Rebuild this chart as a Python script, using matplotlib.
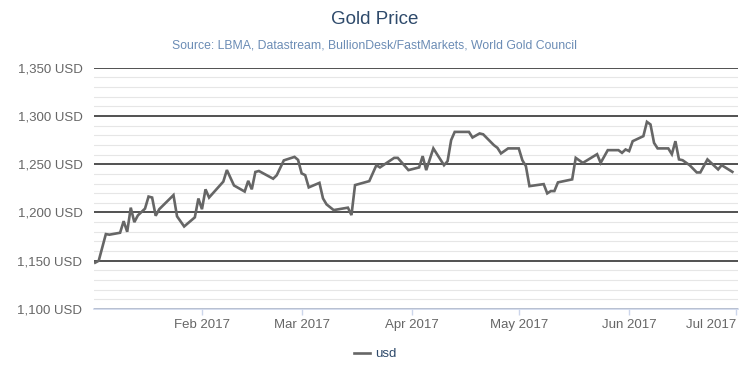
import matplotlib
matplotlib.use("Agg")
import matplotlib.pyplot as plt
from matplotlib.ticker import MultipleLocator, FuncFormatter
import pandas as pd

plt.rcParams['font.family'] = ['Liberation Sans', 'DejaVu Sans']

dates = [
    "2017-01-02", "2017-01-03", "2017-01-05", "2017-01-06", "2017-01-09", "2017-01-10",
    "2017-01-11", "2017-01-12", "2017-01-13", "2017-01-14", "2017-01-16", "2017-01-17",
    "2017-01-18", "2017-01-19", "2017-01-20", "2017-01-24", "2017-01-25", "2017-01-27",
    "2017-01-30", "2017-01-31", "2017-02-01", "2017-02-02", "2017-02-03", "2017-02-07",
    "2017-02-08", "2017-02-10", "2017-02-13", "2017-02-14", "2017-02-15", "2017-02-16",
    "2017-02-17", "2017-02-21", "2017-02-22", "2017-02-24", "2017-02-27", "2017-02-28",
    "2017-03-01", "2017-03-02", "2017-03-03", "2017-03-06", "2017-03-07", "2017-03-08",
    "2017-03-10", "2017-03-14", "2017-03-15", "2017-03-16", "2017-03-20", "2017-03-22",
    "2017-03-23", "2017-03-27", "2017-03-28", "2017-03-31", "2017-04-03", "2017-04-04",
    "2017-04-05", "2017-04-07", "2017-04-10", "2017-04-11", "2017-04-12", "2017-04-13",
    "2017-04-17", "2017-04-18", "2017-04-20", "2017-04-21", "2017-04-24", "2017-04-25",
    "2017-04-26", "2017-04-28", "2017-05-01", "2017-05-02", "2017-05-03", "2017-05-04",
    "2017-05-08", "2017-05-09", "2017-05-10", "2017-05-11", "2017-05-12", "2017-05-16",
    "2017-05-17", "2017-05-19", "2017-05-23", "2017-05-24", "2017-05-26", "2017-05-29",
    "2017-05-30", "2017-05-31", "2017-06-01", "2017-06-02", "2017-06-05", "2017-06-06",
    "2017-06-07", "2017-06-08", "2017-06-09", "2017-06-12", "2017-06-13", "2017-06-14",
    "2017-06-15", "2017-06-16", "2017-06-18", "2017-06-20", "2017-06-21", "2017-06-23",
    "2017-06-26", "2017-06-27", "2017-06-28", "2017-06-30",
]
usd = [
    1148.0, 1150.0, 1177.6, 1177.0, 1179.0, 1191.0,
    1180.0, 1205.0, 1190.0, 1197.0, 1204.0, 1216.5,
    1215.5, 1196.6, 1203.4, 1218.0, 1196.0, 1185.5,
    1195.0, 1214.5, 1203.4, 1224.0, 1215.5, 1232.0,
    1244.0, 1228.0, 1221.7, 1232.8, 1224.0, 1242.0,
    1243.0, 1235.0, 1238.6, 1254.0, 1257.6, 1254.5,
    1240.5, 1238.7, 1226.0, 1230.7, 1214.6, 1208.4,
    1202.5, 1205.0, 1197.3, 1228.4, 1232.5, 1249.0,
    1246.7, 1256.6, 1256.6, 1243.9, 1246.7, 1258.4,
    1243.9, 1266.4, 1249.0, 1253.2, 1275.0, 1283.5,
    1283.5, 1277.7, 1281.9, 1281.0, 1269.8, 1267.0,
    1261.2, 1266.4, 1266.4, 1254.2, 1248.0, 1227.3,
    1229.4, 1219.8, 1222.2, 1222.2, 1231.2, 1234.3,
    1256.6, 1251.4, 1260.4, 1251.4, 1264.6, 1264.6,
    1261.8, 1265.3, 1263.6, 1273.9, 1279.1, 1293.9,
    1291.2, 1272.1, 1266.4, 1266.4, 1260.4, 1273.9,
    1255.0, 1254.2, 1249.0, 1241.5, 1241.5, 1255.0,
    1244.6, 1249.0, 1246.7, 1242.1,
]
tick_dates = ["2017-02-01", "2017-03-01", "2017-04-01", "2017-05-01", "2017-06-01", "2017-07-01"]
tick_labels = ["Feb 2017", "Mar 2017", "Apr 2017", "May 2017", "Jun 2017", "Jul 2017"]

title = "Gold Price"
subtitle = "Source: LBMA, Datastream, BullionDesk/FastMarkets, World Gold Council"

x = pd.to_datetime(dates)

fig = plt.figure(figsize=(7.5, 3.75), dpi=100)
ax = fig.add_axes([0.1257, 0.176, 0.8579, 0.6434])

ax.plot(x, usd, color="#666666", lw=1.9, label="usd", zorder=3, solid_joinstyle="miter")

ax.set_ylim(1100, 1350)
ax.set_xlim(pd.Timestamp("2017-01-01 18:00"), pd.Timestamp("2017-07-01 12:00"))

ax.yaxis.set_major_locator(MultipleLocator(50))
ax.yaxis.set_minor_locator(MultipleLocator(10))
ax.yaxis.set_major_formatter(FuncFormatter(lambda v, p: f"{v:,.0f} USD"))
ax.grid(axis="y", which="minor", color="#e6e6e6", lw=0.8, zorder=0)
ax.grid(axis="y", which="major", color="#222222", lw=1.1, zorder=1)
ax.tick_params(axis="y", which="both", length=0, labelsize=9.5, labelcolor="#666666", pad=8.5)

ax.set_xticks(pd.to_datetime(tick_dates))
ax.set_xticklabels(tick_labels)
ax.tick_params(axis="x", length=4, width=1, color="#ccd6eb", labelsize=9.5, labelcolor="#666666", pad=3)
ax.get_xticklabels()[-1].set_horizontalalignment("right")

for s in ["top", "right", "left"]:
    ax.spines[s].set_visible(False)
ax.spines["bottom"].set_color("#ccd6eb")
ax.spines["bottom"].set_linewidth(1.2)
ax.spines["bottom"].set_zorder(2)

fig.text(0.5, 1 - 20 / 375, title, ha="center", va="center", fontsize=13.5, color="#2e4a6b")
fig.text(0.5, 1 - 45 / 375, subtitle, ha="center", va="center", fontsize=8.8, color="#6b8cb5")

leg = fig.legend(loc="center", bbox_to_anchor=(0.5, 1 - 354 / 375), frameon=False,
                 fontsize=9.5, handlelength=1.2, handletextpad=0.4)
for t in leg.get_texts():
    t.set_color("#2e4a6b")

fig.savefig("out.png", dpi=100)
